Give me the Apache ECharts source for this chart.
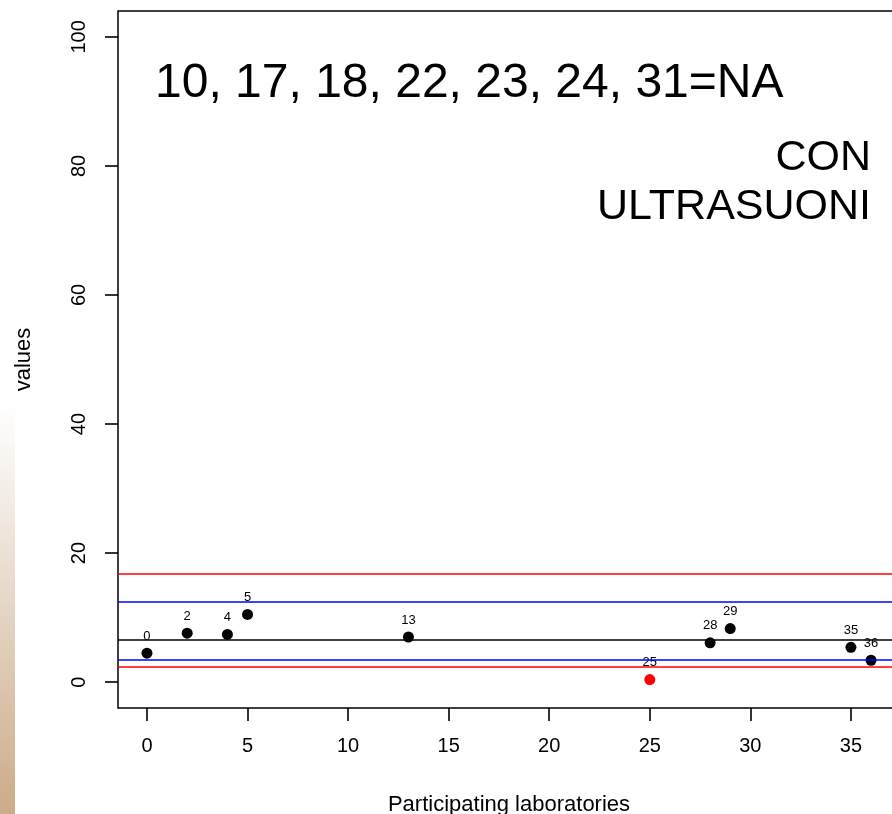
<!DOCTYPE html>
<html>
<head>
<meta charset="utf-8">
<script src="https://cdn.jsdelivr.net/npm/echarts@6/dist/echarts.min.js"></script>
<style>
  html, body { margin: 0; padding: 0; background: #fff; }
  #chart { width: 892px; height: 814px; }
</style>
</head>
<body>
<div id="chart"></div>
<script>
// Laboratory results (lab id -> measured value)
const labs = [0, 2, 4, 5, 13, 25, 28, 29, 35, 36];
const values = [4.5, 7.6, 7.4, 10.5, 7.0, 0.4, 6.1, 8.3, 5.4, 3.4];
// Labs flagged as out of limits
const flaggedLabs = [25];

// Reference lines: centre, inner and outer limits
const centreLine = 6.6;
const innerLimits = [3.4, 12.45];
const outerLimits = [2.4, 16.8];

// Axis ticks
const xTicks = [0, 5, 10, 15, 20, 25, 30, 35];
const yTicks = [0, 20, 40, 60, 80, 100];

const naNote = '10, 17, 18, 22, 23, 24, 31=NA';
const methodNote = ['CON', 'ULTRASUONI'];

const FONT = '"Liberation Sans", Arial, Helvetica, sans-serif';

const points = labs.map((lab, i) => ({
  value: [lab, values[i]],
  itemStyle: { color: flaggedLabs.includes(lab) ? '#ff0000' : '#000000', opacity: 1 }
}));

function hLine(y, color) {
  return {
    yAxis: y,
    lineStyle: { color: color, width: 1.6, type: 'solid' }
  };
}

const chart = echarts.init(document.getElementById('chart'), null, { renderer: 'canvas' });

chart.setOption({
  animation: false,
  backgroundColor: '#ffffff',
  textStyle: { fontFamily: FONT },
  grid: {
    left: 118, top: 11, right: -8, height: 697,
    show: true, borderColor: '#000', borderWidth: 1.5,
    backgroundColor: 'transparent', containLabel: false,
    outerBoundsMode: 'none'
  },
  xAxis: {
    type: 'value', min: -1.44, max: 37.44,
    splitLine: { show: false },
    axisLine: { show: false, onZero: false },
    axisTick: { show: true, length: 13, inside: false, customValues: xTicks,
      lineStyle: { color: '#000', width: 1.6 } },
    axisLabel: { customValues: xTicks, fontSize: 20, color: '#000', margin: 28, fontFamily: FONT },
    name: 'Participating laboratories', nameLocation: 'middle', nameGap: 86,
    nameTextStyle: { fontSize: 22, color: '#000', fontFamily: FONT }
  },
  yAxis: {
    type: 'value', min: -4, max: 104,
    splitLine: { show: false },
    axisLine: { show: false, onZero: false },
    axisTick: { show: true, length: 13, inside: false, customValues: yTicks,
      lineStyle: { color: '#000', width: 1.6 } },
    axisLabel: { customValues: yTicks, fontSize: 20, color: '#000', margin: 29, rotate: 90,
      fontFamily: FONT },
    name: 'values', nameLocation: 'middle', nameGap: 83, nameRotate: 90,
    nameTextStyle: { fontSize: 22, color: '#000', fontFamily: FONT }
  },
  series: [{
    type: 'scatter',
    data: points,
    symbol: 'circle',
    symbolSize: 11,
    itemStyle: { opacity: 1 },
    label: {
      show: true, position: 'top', distance: 5,
      formatter: p => String(p.value[0]),
      fontSize: 13, color: '#000', fontFamily: FONT
    },
    markLine: {
      silent: true, symbol: 'none', label: { show: false },
      data: [
        hLine(outerLimits[1], '#ff0000'),
        hLine(innerLimits[1], '#0000ff'),
        hLine(centreLine, '#000000'),
        hLine(innerLimits[0], '#0000ff'),
        hLine(outerLimits[0], '#ff0000')
      ]
    },
    z: 3
  }],
  graphic: [
    {
      type: 'rect', left: 0, top: 405, z: 0,
      shape: { width: 15, height: 409 },
      style: {
        fill: new echarts.graphic.LinearGradient(0, 0, 0, 1, [
          { offset: 0, color: '#ffffff' },
          { offset: 1, color: '#cbab88' }
        ])
      }
    },
    {
      type: 'text', x: 155, y: 84,
      style: { text: naNote, font: '48px ' + FONT, fill: '#000',
        textAlign: 'left', textVerticalAlign: 'middle' }
    },
    {
      type: 'text', x: 871, y: 158,
      style: { text: methodNote[0], font: '43px ' + FONT, fill: '#000',
        textAlign: 'right', textVerticalAlign: 'middle' }
    },
    {
      type: 'text', x: 871, y: 207,
      style: { text: methodNote[1], font: '43px ' + FONT, fill: '#000',
        textAlign: 'right', textVerticalAlign: 'middle' }
    }
  ]
});
</script>
</body>
</html>
